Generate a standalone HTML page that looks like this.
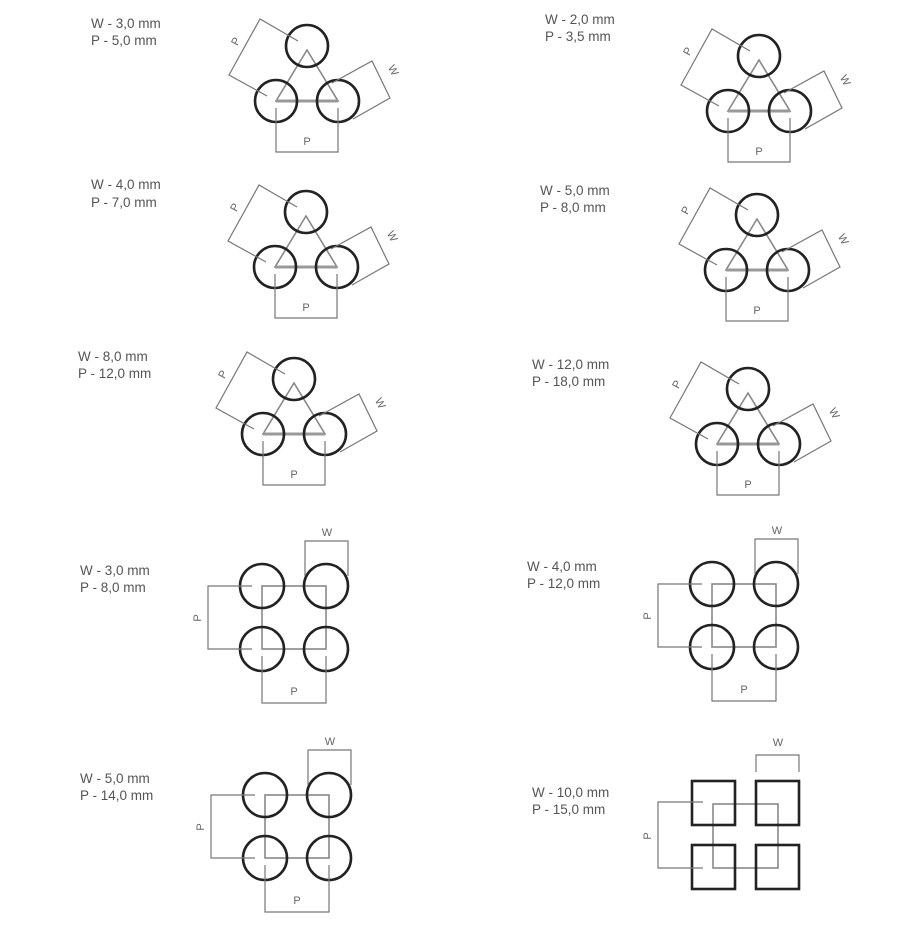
<!DOCTYPE html>
<html><head><meta charset="utf-8"><style>
html,body{margin:0;padding:0;background:#fff;}
svg{display:block}
text{font-family:"Liberation Sans",sans-serif;}
.t{font-size:13.5px;fill:#555;}
.c{fill:none;stroke:#222;stroke-width:2.6}
.g{fill:none;stroke:#888;stroke-width:1.6}
.gb{fill:none;stroke:#999;stroke-width:3}
.d{fill:none;stroke:#777;stroke-width:1.2}
.l{font-size:11px;fill:#666;text-anchor:middle}
</style></head><body>
<svg width="900" height="941" viewBox="0 0 900 941" xmlns="http://www.w3.org/2000/svg">
<defs>
<g id="tri">
  <polygon class="g" points="0,4 -31,55 31,55"/>
  <line class="gb" x1="-31" y1="55" x2="31" y2="55"/>
  <circle class="c" cx="0" cy="0" r="21"/>
  <circle class="c" cx="-31" cy="55" r="21"/>
  <circle class="c" cx="31" cy="55" r="21"/>
  <polyline class="d" points="-9,-5 -47,-27 -78,29 -40,50"/>
  <polyline class="d" points="25,37 65,15 83,52 46,73"/>
  <polyline class="d" points="-31,62 -31,106 31,106 31,62"/>
  <text class="l" x="0" y="99">P</text>
  <text class="l" transform="translate(-68,-3) rotate(-62)">P</text>
  <text class="l" transform="translate(83,26) rotate(62)">W</text>
</g>
<g id="sq">
  <rect class="g" x="0" y="0" width="64" height="63"/>
  <circle class="c" cx="0" cy="0" r="22"/>
  <circle class="c" cx="64" cy="0" r="22"/>
  <circle class="c" cx="0" cy="63" r="22"/>
  <circle class="c" cx="64" cy="63" r="22"/>
  <polyline class="d" points="-10,0 -54,0 -54,63 -10,63"/>
  <polyline class="d" points="43,-10 43,-45 86,-45 86,-10"/>
  <polyline class="d" points="0,70 0,117 64,117 64,70"/>
  <text class="l" x="32" y="109">P</text>
  <text class="l" x="65" y="-50">W</text>
  <text class="l" transform="translate(-61,32) rotate(-90)">P</text>
</g>
</defs>

<text class="t" x="91" y="28">W - 3,0 mm</text><text class="t" x="91" y="45">P - 5,0 mm</text>
<text class="t" x="545" y="24">W - 2,0 mm</text><text class="t" x="545" y="41">P - 3,5 mm</text>
<text class="t" x="91" y="189">W - 4,0 mm</text><text class="t" x="91" y="207">P - 7,0 mm</text>
<text class="t" x="540" y="195">W - 5,0 mm</text><text class="t" x="540" y="212">P - 8,0 mm</text>
<text class="t" x="78" y="361">W - 8,0 mm</text><text class="t" x="78" y="378">P - 12,0 mm</text>
<text class="t" x="532" y="369">W - 12,0 mm</text><text class="t" x="532" y="386">P - 18,0 mm</text>
<text class="t" x="80" y="575">W - 3,0 mm</text><text class="t" x="80" y="592">P - 8,0 mm</text>
<text class="t" x="527" y="571">W - 4,0 mm</text><text class="t" x="527" y="588">P - 12,0 mm</text>
<text class="t" x="80" y="783">W - 5,0 mm</text><text class="t" x="80" y="800">P - 14,0 mm</text>
<text class="t" x="532" y="797">W - 10,0 mm</text><text class="t" x="532" y="814">P - 15,0 mm</text>

<use href="#tri" x="307" y="46"/>
<use href="#tri" x="759" y="56"/>
<use href="#tri" x="306" y="212"/>
<use href="#tri" x="757" y="215"/>
<use href="#tri" x="294" y="379"/>
<use href="#tri" x="748" y="389"/>

<use href="#sq" x="262" y="586"/>
<use href="#sq" x="712" y="584"/>
<use href="#sq" x="265" y="795"/>

<g>
  <rect class="g" x="713" y="804" width="65" height="64"/>
  <rect class="c" x="692" y="781" width="43" height="44"/>
  <rect class="c" x="756" y="781" width="43" height="44"/>
  <rect class="c" x="692" y="845" width="43" height="44"/>
  <rect class="c" x="756" y="845" width="43" height="44"/>
  <polyline class="d" points="703,802 658,802 658,868 703,868"/>
  <polyline class="d" points="756,772 756,755 799,755 799,772"/>
  <text class="l" x="778" y="746">W</text>
  <text class="l" transform="translate(651,836) rotate(-90)">P</text>
</g>
</svg>
</body></html>
